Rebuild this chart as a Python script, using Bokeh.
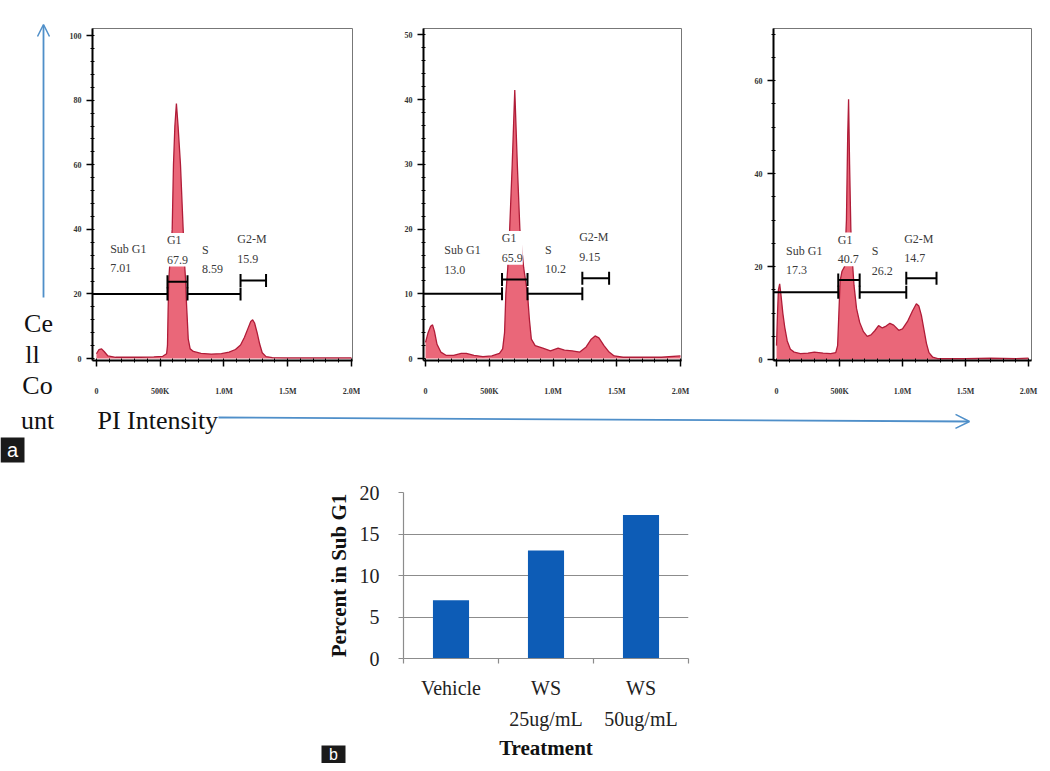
from bokeh.plotting import figure
from bokeh.layouts import column, row
from bokeh.models import (Range1d, SingleIntervalTicker, FixedTicker, LabelSet, LinearAxis,
                          ColumnDataSource, Arrow, OpenHead, Spacer)
from bokeh.core.properties import value
from bokeh.embed import file_html
from bokeh.resources import INLINE

# ---------------- data ----------------
# PI intensity (millions) vs cell count
pi_vehicle = [0.0, 0.02, 0.04, 0.06, 0.09, 0.15, 0.25, 0.35, 0.45, 0.52, 0.55, 0.557, 0.562, 0.568, 0.58,
              0.594, 0.604, 0.615, 0.627, 0.64, 0.659, 0.68, 0.69, 0.698, 0.705, 0.71, 0.72, 0.735, 0.76,
              0.82, 0.9, 0.98, 1.04, 1.09, 1.13, 1.16, 1.19, 1.21, 1.225, 1.24, 1.26, 1.28, 1.30, 1.33,
              1.38, 1.5, 1.7, 2.0]
count_vehicle = [1.5, 2.8, 3.0, 2.2, 0.8, 0.4, 0.4, 0.4, 0.5, 0.7, 1.5, 4, 15, 25, 32,
                 40, 60, 72, 79, 72, 60, 40, 30, 25, 18, 14, 6, 3, 2.2,
                 1.6, 1.4, 1.5, 2.0, 2.8, 4.2, 6.5, 9.5, 11.5, 12, 11, 8, 4.5, 1.8, 0.6,
                 0.3, 0.2, 0.2, 0.2]

pi_ws25 = [0.0, 0.02, 0.04, 0.055, 0.07, 0.09, 0.12, 0.16, 0.22, 0.28, 0.32, 0.38, 0.45, 0.52, 0.58,
           0.605, 0.62, 0.63, 0.645, 0.66, 0.68, 0.70, 0.72, 0.74, 0.77, 0.80, 0.815, 0.83, 0.86, 0.92,
           0.98, 1.04, 1.09, 1.15, 1.21, 1.26, 1.30, 1.33, 1.36, 1.40, 1.44, 1.48, 1.55, 1.7, 1.85, 2.0]
count_ws25 = [2.5, 4.0, 5.0, 5.2, 4.2, 2.2, 1.0, 0.5, 0.5, 0.8, 0.8, 0.5, 0.3, 0.4, 0.8,
              1.5, 4, 10, 14, 20, 30, 41.5, 30, 20, 14, 10, 6, 3, 2.0, 1.6,
              1.2, 1.6, 1.3, 1.2, 1.0, 1.8, 3.0, 3.5, 3.2, 2.0, 1.0, 0.4, 0.2, 0.2, 0.2, 0.4]

pi_ws50 = [0.0, 0.008, 0.015, 0.025, 0.035, 0.05, 0.065, 0.085, 0.11, 0.14, 0.19, 0.25, 0.3, 0.37, 0.43,
           0.47, 0.485, 0.495, 0.505, 0.52, 0.54, 0.555, 0.565, 0.572, 0.58, 0.59, 0.60, 0.615, 0.635,
           0.66, 0.69, 0.72, 0.75, 0.78, 0.81, 0.84, 0.87, 0.90, 0.93, 0.97, 1.0, 1.04, 1.08, 1.11,
           1.13, 1.15, 1.17, 1.19, 1.21, 1.24, 1.28, 1.35, 1.5, 1.7, 1.9, 2.0]
count_ws50 = [3, 10, 15, 16.3, 14, 10, 7, 4, 2.2, 1.6, 1.3, 1.4, 1.6, 1.4, 1.3,
              1.5, 3, 10, 17, 19, 20, 30, 48, 56, 42, 28, 22, 16, 11,
              8, 6, 5, 5.3, 6.2, 7.3, 6.8, 7.2, 7.8, 7.4, 6.3, 6.6, 8.2, 10.5, 12,
              11.5, 9.5, 6.5, 3.5, 1.5, 0.5, 0.2, 0.2, 0.2, 0.3, 0.2, 0.3]

gate_names = ["Sub G1", "G1", "S", "G2-M"]

gate_lo_vehicle = [-0.05, 0.557, 0.714, 1.13]
gate_hi_vehicle = [0.557, 0.714, 1.13, 1.33]
gate_lvl_vehicle = [20.0, 23.8, 20.0, 24.2]
gate_pct_vehicle = ["7.01", "67.9", "8.59", "15.9"]
lab_x_vehicle = [0.25, 0.635, 0.91, 1.22]
lab_y_vehicle = [31.0, 33.7, 30.7, 34.0]

gate_lo_ws25 = [-0.05, 0.60, 0.80, 1.23]
gate_hi_ws25 = [0.60, 0.80, 1.23, 1.44]
gate_lvl_ws25 = [10.0, 12.2, 10.0, 12.4]
gate_pct_ws25 = ["13.0", "65.9", "10.2", "9.15"]
lab_x_ws25 = [0.29, 0.68, 1.02, 1.32]
lab_y_ws25 = [15.2, 17.1, 15.3, 17.2]

gate_lo_ws50 = [-0.05, 0.49, 0.66, 1.03]
gate_hi_ws50 = [0.49, 0.66, 1.03, 1.27]
gate_lvl_ws50 = [14.5, 17.1, 14.5, 17.5]
gate_pct_ws50 = ["17.3", "40.7", "26.2", "14.7"]
lab_x_ws50 = [0.22, 0.57, 0.84, 1.13]
lab_y_ws50 = [21.3, 23.7, 21.2, 23.9]

x_tick_labels = {0.0: "0", 0.5: "500K", 1.0: "1.0M", 1.5: "1.5M", 2.0: "2.0M"}

treatments = ["Vehicle", "WS 25ug/mL", "WS 50ug/mL"]
treatment_line1 = ["Vehicle", "WS", "WS"]
treatment_line2 = [" ", "25ug/mL", "50ug/mL"]
pct_sub_g1 = [7.01, 13.0, 17.3]

# ---------------- styles ----------------
SERIF = value("Liberation Serif")
BLUE_ARROW = "#4f8fc9"
FILL = "#e8566a"
EDGE = "#b01c38"


def no_align(p):
    if "frame_align" in p.properties():
        p.frame_align = False
    return p


def deco_fig(w, h):
    p = figure(title=None, frame_width=w, frame_height=h, x_range=Range1d(0, w),
               y_range=Range1d(h, 0), min_border=0, output_backend="svg", toolbar_location=None)
    p.axis.visible = False
    p.grid.visible = False
    p.outline_line_color = None
    p.background_fill_color = "white"
    p.border_fill_color = "white"
    return no_align(p)


def hist_fig(xs, ys, xr, yr, yint, yminor, bl, fw, br, lo, hi, lvl, pct, lx, ly):
    p = figure(title=None, frame_width=fw, frame_height=332, min_border_left=bl,
               min_border_right=br, min_border_top=28, min_border_bottom=40,
               x_range=Range1d(*xr), y_range=Range1d(*yr),
               output_backend="svg", toolbar_location=None)
    no_align(p)
    p.grid.visible = False
    p.outline_line_color = "#777777"
    p.outline_line_width = 1
    p.background_fill_color = "white"
    p.border_fill_color = "white"

    p.varea(x=xs, y1=0, y2=ys, fill_color=FILL, fill_alpha=0.9)
    p.line(x=xs, y=ys, line_color=EDGE, line_width=1.3)

    src = ColumnDataSource(dict(lo=lo, hi=hi, lvl=lvl))
    p.segment(x0="lo", y0="lvl", x1="hi", y1="lvl", source=src, line_color="black", line_width=2)
    p.scatter(x="lo", y="lvl", source=src, marker="dash", angle=1.5708, size=13,
              line_color="black", line_width=2)
    p.scatter(x="hi", y="lvl", source=src, marker="dash", angle=1.5708, size=13,
              line_color="black", line_width=2)

    txt = [n + "\n" + v for n, v in zip(gate_names, pct)]
    lsrc = ColumnDataSource(dict(x=lx, y=ly, t=txt))
    p.add_layout(LabelSet(x="x", y="y", text="t", source=lsrc, text_align="center",
                          text_baseline="middle", text_font=SERIF, text_font_size="12px",
                          text_line_height=1.4, text_color="#3a3a3a",
                          background_fill_color="white"))

    p.xaxis.ticker = SingleIntervalTicker(interval=0.5, num_minor_ticks=5)
    p.xaxis.major_label_overrides = x_tick_labels
    p.yaxis.ticker = SingleIntervalTicker(interval=yint, num_minor_ticks=yminor)
    for ax in (p.xaxis, p.yaxis):
        ax.axis_line_color = "black"
        ax.axis_line_width = 2
        ax.major_tick_line_color = "black"
        ax.major_tick_line_width = 1.5
        ax.major_tick_in = 0
        ax.major_tick_out = 6
        ax.minor_tick_line_color = "black"
        ax.minor_tick_line_width = 1
        ax.minor_tick_in = 2
        ax.minor_tick_out = 2
        ax.major_label_text_font = "Liberation Serif"
        ax.major_label_text_font_style = "bold"
        ax.major_label_text_font_size = "8px"
        ax.major_label_text_color = "#333333"
    p.xaxis.major_label_standoff = 20
    p.yaxis.major_label_standoff = 5
    return p


# ---------------- row 1 (y 0-400) ----------------
p0 = deco_fig(60, 400)
p0.add_layout(Arrow(end=OpenHead(size=12, line_color=BLUE_ARROW, line_width=1.5),
                    x_start=43, y_start=297, x_end=43, y_end=24,
                    line_color=BLUE_ARROW, line_width=1.8))
p0.text(x=[38, 32, 37], y=[323, 354, 385], text=["Ce", "ll", "Co"], text_font=SERIF,
        text_font_size="26px", text_align="center", text_baseline="middle", text_color="#111111")

p1 = hist_fig(pi_vehicle, count_vehicle, (-0.031, 2.008), (-0.6, 102.2), 20, 5, 32, 260, 8,
              gate_lo_vehicle, gate_hi_vehicle, gate_lvl_vehicle, gate_pct_vehicle,
              lab_x_vehicle, lab_y_vehicle)
p2 = hist_fig(pi_ws25, count_ws25, (-0.016, 2.008), (-0.3, 51.0), 10, 5, 63, 258, 9,
              gate_lo_ws25, gate_hi_ws25, gate_lvl_ws25, gate_pct_ws25,
              lab_x_ws25, lab_y_ws25)
p3 = hist_fig(pi_ws50, count_ws50, (-0.024, 2.024), (-0.2, 71.2), 20, 4, 83, 258, 11,
              gate_lo_ws50, gate_hi_ws50, gate_lvl_ws50, gate_pct_ws50,
              lab_x_ws50, lab_y_ws50)

# ---------------- strip with x-axis title (y 400-470) ----------------
ps = deco_fig(1042, 70)
ps.text(x=[37], y=[20], text=["unt"], text_font=SERIF, text_font_size="26px",
        text_align="center", text_baseline="middle", text_color="#111111")
ps.text(x=[97], y=[20], text=["PI Intensity"], text_font=SERIF, text_font_size="26px",
        text_align="left", text_baseline="middle", text_color="#111111")
ps.add_layout(Arrow(end=OpenHead(size=14, line_color=BLUE_ARROW, line_width=1.5),
                    x_start=218, y_start=17, x_end=969, y_end=21,
                    line_color=BLUE_ARROW, line_width=1.8))
ps.quad(left=[0], right=[24], top=[37], bottom=[62], fill_color="#1a1a1a", line_color=None)
ps.text(x=[12], y=[49], text=["a"], text_font=value("Liberation Sans"), text_font_size="20px",
        text_align="center", text_baseline="middle", text_color="white")

# ---------------- bar chart (y 470-735) ----------------
bar_pos = [i + 0.5 for i in range(len(treatments))]
bar_edges = [float(i) for i in range(len(treatments) + 1)]

pb = figure(title=None, frame_width=285, frame_height=166, min_border_left=85, min_border_right=10,
            min_border_top=22, min_border_bottom=77,
            x_range=Range1d(0, len(treatments)), y_range=Range1d(0, 20),
            output_backend="svg", toolbar_location=None)
no_align(pb)
pb.vbar(x=bar_pos, top=pct_sub_g1, width=0.38, fill_color="#0d5cb6", line_color=None)
pb.xgrid.visible = False
pb.ygrid.grid_line_color = "#8c8c8c"
pb.ygrid.grid_line_width = 1.2
pb.yaxis.ticker = SingleIntervalTicker(interval=5, num_minor_ticks=0)
pb.outline_line_color = None
pb.background_fill_color = "white"
pb.border_fill_color = "white"

ax2 = LinearAxis()
pb.add_layout(ax2, "below")
for ax in (pb.xaxis[0], pb.yaxis[0], ax2):
    ax.axis_line_color = "#8c8c8c"
    ax.axis_line_width = 1.2
    ax.major_tick_line_color = "#8c8c8c"
    ax.major_label_text_font = "Liberation Serif"
    ax.major_label_text_font_size = "20px"
    ax.major_label_text_color = "#222222"
    ax.axis_label_text_font = "Liberation Serif"
    ax.axis_label_text_font_style = "bold"
    ax.axis_label_text_font_size = "21px"
    ax.axis_label_text_color = "#111111"
pb.yaxis.minor_tick_line_color = None
pb.yaxis.major_tick_in = 0
pb.yaxis.major_tick_out = 5
pb.yaxis.major_label_standoff = 19
pb.yaxis.axis_label = "Percent in Sub G1"
pb.yaxis.axis_label_standoff = 6

xa1 = pb.xaxis[0]
xa1.ticker = FixedTicker(ticks=bar_pos, minor_ticks=bar_edges)
xa1.major_tick_in = 0
xa1.major_tick_out = 0
xa1.minor_tick_in = 0
xa1.minor_tick_out = 5
xa1.minor_tick_line_color = "#8c8c8c"
xa1.minor_tick_line_width = 1.2
xa1.major_label_overrides = dict(zip(bar_pos, treatment_line1))
xa1.major_label_standoff = 13

ax2.ticker = FixedTicker(ticks=bar_pos)
ax2.axis_line_color = None
ax2.major_tick_line_color = None
ax2.minor_tick_line_color = None
ax2.major_label_overrides = dict(zip(bar_pos, treatment_line2))
ax2.major_label_standoff = 0

# ---------------- bottom strip: x-axis title "Treatment" and panel letter b (y 735-763) ----------------
pf = deco_fig(1042, 28)
pf.text(x=[545.5], y=[12], text=["Treatment"], text_font=SERIF, text_font_style="bold",
        text_font_size="21px", text_align="center", text_baseline="middle", text_color="#111111")
pf.quad(left=[321], right=[345], top=[10], bottom=[28], fill_color="#1a1a1a", line_color=None)
pf.text(x=[333], y=[19], text=["b"], text_font=value("Liberation Sans"), text_font_size="16px",
        text_align="center", text_baseline="middle", text_color="white")

layout = column(row(p0, p1, p2, p3), ps, row(Spacer(width=318, height=265), pb), pf)
layout.styles = {"background-color": "white"}

open("out.html", "w").write(file_html(layout, INLINE))
